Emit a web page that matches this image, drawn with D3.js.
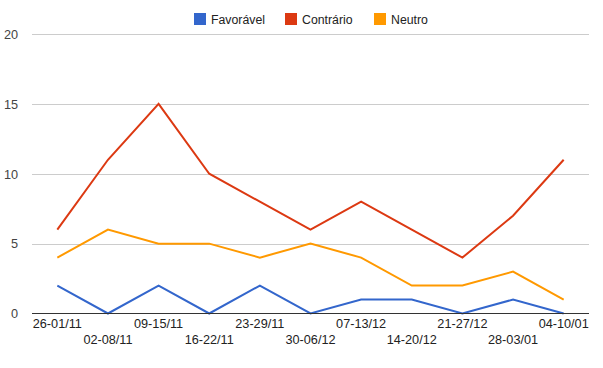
<!DOCTYPE html>
<html><head><meta charset="utf-8">
<script src="https://cdn.jsdelivr.net/npm/d3@7"></script>
<style>body{margin:0;background:#fff}svg{display:block;font-family:Arial,"Liberation Sans",sans-serif}</style>
</head><body><svg id="c" width="603" height="368"></svg>
<script>
const categories = ["26-01/11","02-08/11","09-15/11","16-22/11","23-29/11","30-06/12","07-13/12","14-20/12","21-27/12","28-03/01","04-10/01"];
const favoravel = [2,0,2,0,2,0,1,1,0,1,0];
const contrario = [6,11,15,10,8,6,8,6,4,7,11];
const neutro = [4,6,5,5,4,5,4,2,2,3,1];
const seriesNames = ["Favorável","Contrário","Neutro"];
const yTicks = [0,5,10,15,20];
const colors = ["#3366cc","#dc3912","#ff9900"];
const series = [favoravel, contrario, neutro];

const svg = d3.select("#c");
const x = d3.scaleBand().domain(categories).range([32, 589]);
const y = d3.scaleLinear().domain([0,20]).range([313.5, 34]);

// gridlines
svg.append("g").selectAll("line").data(yTicks.filter(d=>d>0)).join("line")
  .attr("x1",32).attr("x2",589).attr("y1",d=>Math.round(y(d))+0.5).attr("y2",d=>Math.round(y(d))+0.5)
  .attr("stroke","#cccccc").attr("stroke-width",1);

// y labels
svg.append("g").selectAll("text").data(yTicks).join("text")
  .attr("x",18).attr("y",d=>y(d)+4.8).attr("text-anchor","end")
  .attr("font-size",12.7).attr("fill","#444").text(d=>d);

// lines
const line = d3.line().x((d,i)=>x(categories[i])+x.bandwidth()/2).y(d=>y(d));
series.forEach((s,k)=>{
  svg.append("path").datum(s).attr("d",line).attr("fill","none")
    .attr("stroke",colors[k]).attr("stroke-width",2).attr("stroke-linejoin","miter");
});

// baseline
svg.append("line").attr("x1",32).attr("x2",589).attr("y1",313.5).attr("y2",313.5)
  .attr("stroke","#333").attr("stroke-width",1);

// x labels
svg.append("g").selectAll("text").data(categories).join("text")
  .attr("x",d=>x(d)+x.bandwidth()/2).attr("y",(d,i)=>i%2===0?328:344)
  .attr("text-anchor","middle").attr("font-size",12.7).attr("fill","#222").text(d=>d);

// legend
const legX = [194, 285, 374];
const lg = svg.append("g").selectAll("g").data(seriesNames).join("g")
  .attr("transform",(d,i)=>`translate(${legX[i]},13)`);
lg.append("rect").attr("width",12).attr("height",12).attr("fill",(d,i)=>colors[i]);
lg.append("text").attr("x",17).attr("y",10.5).attr("font-size",12.3).attr("fill","#222").text(d=>d);
</script></body></html>
